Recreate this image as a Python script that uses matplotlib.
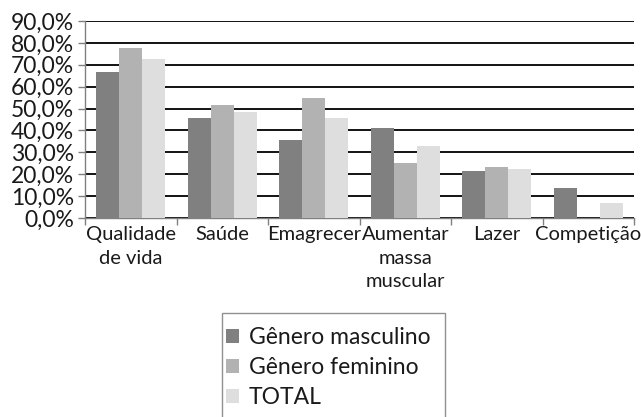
import matplotlib
matplotlib.use("Agg")
import matplotlib.pyplot as plt
import numpy as np
from matplotlib.patches import Patch, Rectangle
from matplotlib.ticker import FuncFormatter

categories = ["Qualidade\nde vida", "Saúde", "Emagrecer", "Aumentar\nmassa\nmuscular", "Lazer", "Competição"]
masculino = [66.7, 45.7, 35.7, 41.2, 21.6, 13.7]
feminino = [77.5, 51.5, 54.9, 25.2, 23.4, 0.0]
total = [72.5, 48.5, 45.7, 33.0, 22.5, 7.0]
series_names = ["Gênero masculino", "Gênero feminino", "TOTAL"]
colors = ["#808080", "#b2b2b2", "#dedede"]
yticks = [0, 10, 20, 30, 40, 50, 60, 70, 80, 90]

plt.rcParams['font.family'] = ['Lato', 'DejaVu Sans']

W, H = 641, 417
fig = plt.figure(figsize=(W/100, H/100), dpi=100)
ax = fig.add_axes([85/W, 1-218/H, (634-85)/W, (218-21)/H])

x = np.arange(len(categories))
w = 0.25
for i, (vals, c) in enumerate(zip([masculino, feminino, total], colors)):
    ax.bar(x + (i-1)*w, vals, width=w, color=c, zorder=3, label=series_names[i])

ax.set_xlim(-0.5, len(categories)-0.5)
ax.set_ylim(0, 90)
ax.set_yticks(yticks)
ax.yaxis.set_major_formatter(FuncFormatter(lambda v, p: f"{v:.1f}%".replace(".", ",")))
ax.yaxis.grid(True, color="black", linewidth=1.3, zorder=1)
ax.set_axisbelow(True)

ax.set_xticks(np.arange(len(categories)+1)-0.5)
ax.set_xticklabels([])
ax.set_xticks(x, minor=True)
ax.set_xticklabels(categories, minor=True, fontsize=14.5, linespacing=1.45,
                   color="#1a1a1a")
ax.tick_params(axis='x', which='minor', length=0, pad=6)
ax.tick_params(axis='x', which='major', length=5, color="#808080", width=1)
ax.tick_params(axis='y', length=5, color="#808080", width=1, pad=3, labelsize=16.5,
               labelcolor="#1a1a1a")

for s in ["top", "right"]:
    ax.spines[s].set_visible(False)
for s in ["left", "bottom"]:
    ax.spines[s].set_color("#808080")
    ax.spines[s].set_linewidth(1)

# legend frame (extends past bottom edge as in the reference)
fig.add_artist(Rectangle((222/W, -20/H), (445-222)/W, (20+417-313)/H,
                         transform=fig.transFigure, facecolor="white",
                         edgecolor="#909090", linewidth=1, clip_on=False))
handles = [Patch(facecolor=c, edgecolor='none') for c in colors]
leg = fig.legend(handles, series_names, loc="upper left",
                 bbox_to_anchor=(226/W, 1-327/H), fontsize=16.5,
                 frameon=False, labelcolor="#1a1a1a",
                 handlelength=0.55, handleheight=0.55, handletextpad=0.45,
                 labelspacing=0.4, borderpad=0, borderaxespad=0)

fig.savefig("out.png", dpi=100)
